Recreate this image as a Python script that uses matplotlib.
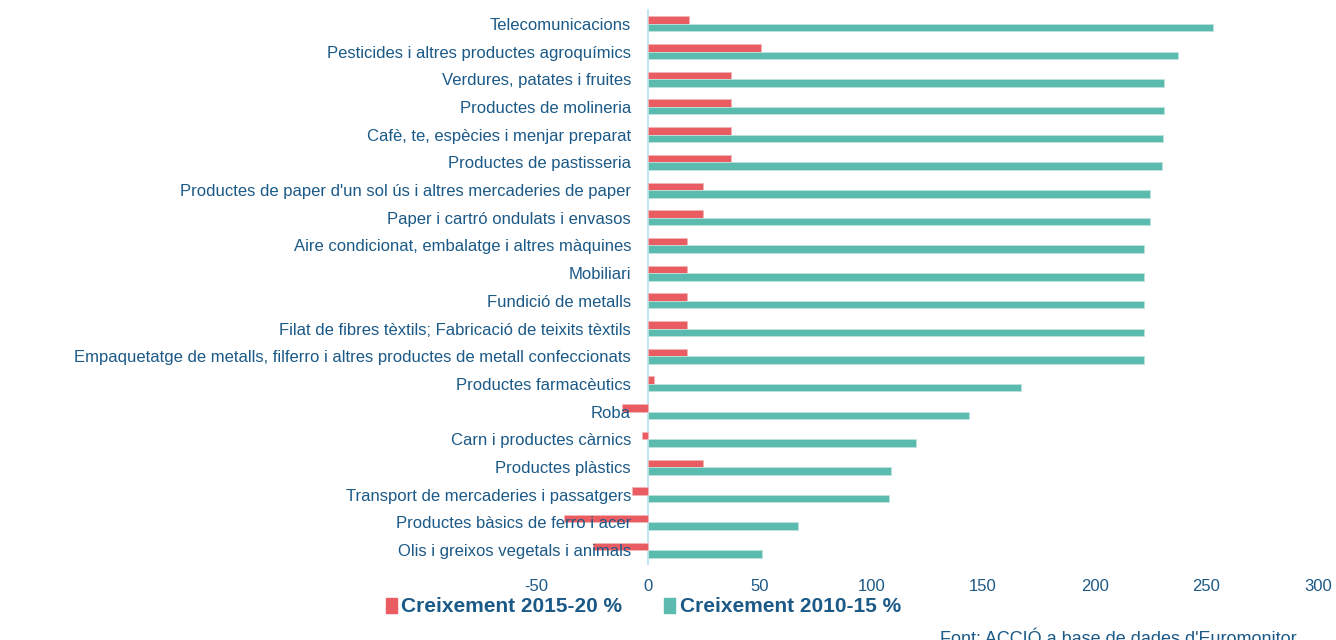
import numpy as np
import matplotlib.pyplot as plt
from matplotlib.patches import Patch

plt.rcParams['font.family'] = ['Liberation Sans', 'DejaVu Sans']

# categories, top to bottom
sectors = [
    "Telecomunicacions",
    "Pesticides i altres productes agroquímics",
    "Verdures, patates i fruites",
    "Productes de molineria",
    "Cafè, te, espècies i menjar preparat",
    "Productes de pastisseria",
    "Productes de paper d'un sol ús i altres mercaderies de paper",
    "Paper i cartró ondulats i envasos",
    "Aire condicionat, embalatge i altres màquines",
    "Mobiliari",
    "Fundició de metalls",
    "Filat de fibres tèxtils; Fabricació de teixits tèxtils",
    "Empaquetatge de metalls, filferro i altres productes de metall confeccionats",
    "Productes farmacèutics",
    "Roba",
    "Carn i productes càrnics",
    "Productes plàstics",
    "Transport de mercaderies i passatgers",
    "Productes bàsics de ferro i acer",
    "Olis i greixos vegetals i animals",
]
growth_2015_20 = [18.3, 50.5, 37.3, 37.3, 37.3, 37.3, 24.8, 24.8, 17.5, 17.5,
                  17.5, 17.5, 17.5, 3.0, -11.6, -2.5, 24.9, -7.2, -37.4, -24.3]
growth_2010_15 = [252.8, 237.2, 230.9, 230.9, 230.7, 230.4, 224.6, 224.6, 222.0, 222.0,
                  222.0, 222.0, 222.0, 167.0, 144.0, 120.0, 108.7, 108.2, 67.1, 51.3]
x_ticks = [-50, 0, 50, 100, 150, 200, 250, 300]

red = '#E95C61'
teal = '#5BBBAF'
txt = '#1B5987'

fig = plt.figure(figsize=(13.36, 6.4), dpi=100)
ax = fig.add_axes([536 / 1336, 1 - 564 / 640, (1318 - 536) / 1336, (564 - 10) / 640])

y = np.arange(len(sectors))
h = 0.27
ax.barh(y - h / 2, growth_2015_20, height=h, color=red, edgecolor='#F4B5B7', linewidth=0.6)
ax.barh(y + h / 2, growth_2010_15, height=h, color=teal, edgecolor='#BDE3DE', linewidth=0.6)

ax.set_xlim(-50, 300)
ax.set_ylim(len(sectors) - 0.5, -0.5)
ax.set_xticks(x_ticks)
ax.set_xticklabels([str(v) for v in x_ticks])
ax.set_yticks(y)
ax.set_yticklabels(sectors)

for s in ['top', 'right', 'bottom']:
    ax.spines[s].set_visible(False)
ax.spines['left'].set_position(('data', 0))
ax.spines['left'].set_color('#C5E5F7')
ax.spines['left'].set_linewidth(1.5)
ax.spines['left'].set_zorder(0)

ax.tick_params(axis='y', length=0, pad=12, labelsize=12, labelcolor=txt)
ax.tick_params(axis='x', length=0, pad=11, labelsize=12, labelcolor=txt)

handles = [Patch(color=red, label='Creixement 2015-20 %'),
           Patch(color=teal, label='Creixement 2010-15 %')]
fig.legend(handles=handles, loc='center left', bbox_to_anchor=(371 / 1336, 1 - 607 / 640),
           ncol=2, frameon=False, handlelength=0.55, handleheight=0.7, handletextpad=0.2,
           columnspacing=2.0, prop={'weight': 'bold', 'size': 15}, labelcolor=txt,
           borderpad=0.2)

fig.text(940 / 1336, 1 - 648 / 640, "Font: ACCIÓ a base de dades d'Euromonitor",
         fontsize=13, color=txt, va='bottom', ha='left')

fig.savefig('out.png', dpi=100)
